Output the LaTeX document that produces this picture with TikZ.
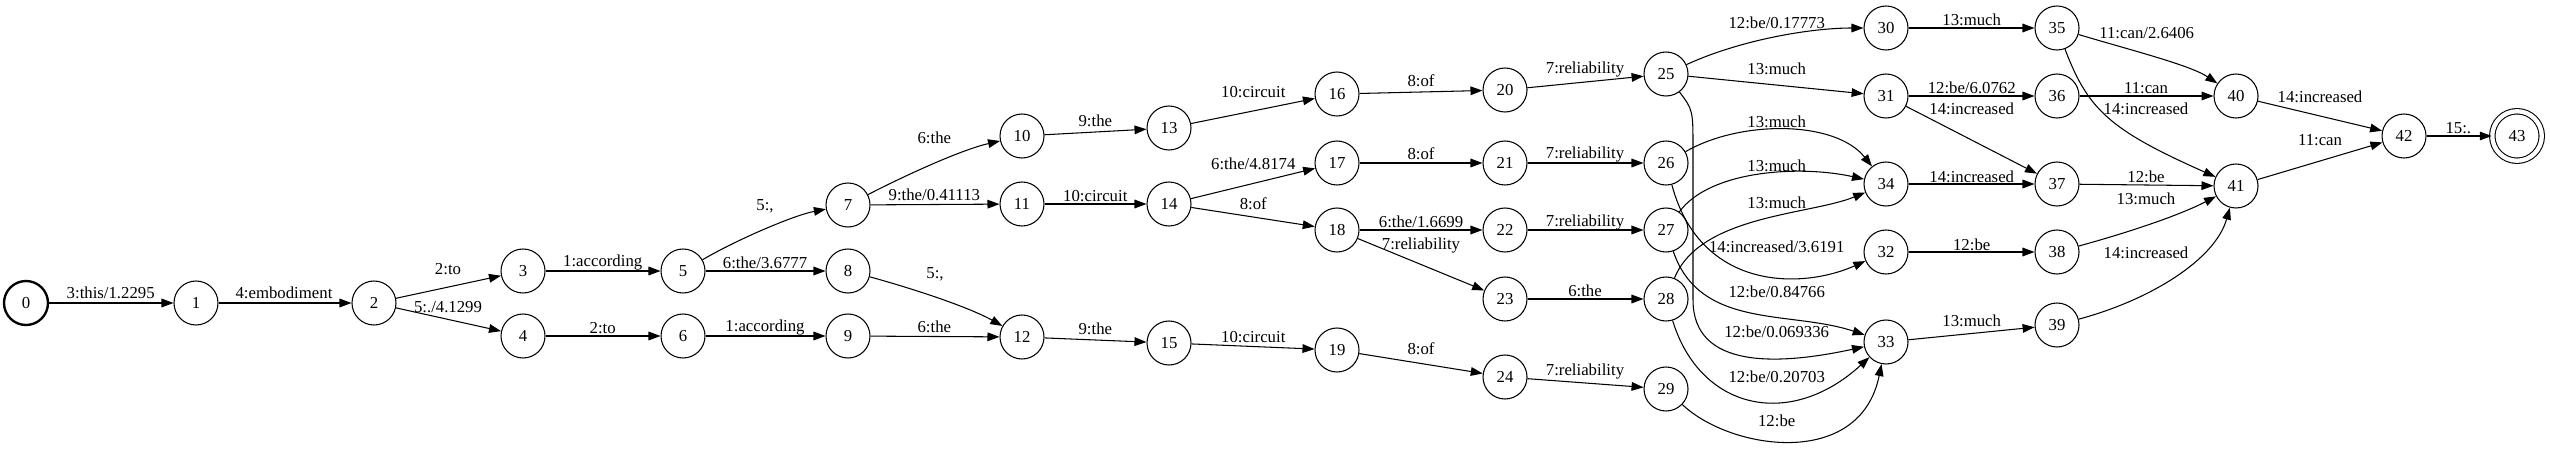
\documentclass[tikz,border=0pt]{standalone}
\usepackage{fontspec}
\setmainfont{Liberation Serif}
\usetikzlibrary{arrows.meta}
\begin{document}
\begin{tikzpicture}[x=0.03cm,y=-0.03cm,
  st/.style={circle,draw,line width=0.9pt,minimum size=1.32cm,inner sep=0pt,font=\fontsize{14.3pt}{17pt}\selectfont},
  lbl/.style={inner sep=0pt,font=\fontsize{14.3pt}{17pt}\selectfont},
  edge/.style={line width=0.9pt,-{Triangle[length=0.36cm,width=0.26cm]}}]
\useasboundingbox (0,0) rectangle (2550,455);
% states
\node[st,line width=2pt] (n0) at (26,303) {0};
\foreach \n/\x/\y in {1/196/303,2/374/303,3/523/271,4/523/336,5/683/271,6/683/336,
  7/848/205,8/848/271,9/848/336,10/1022/136,11/1022/204,12/1022/337,
  13/1169/128,14/1169/204,15/1169/343,16/1337/94,17/1337/163,18/1337/230,19/1337/350,
  20/1505/90,21/1505/163,22/1505/230,23/1505/299,24/1505/377,
  25/1666/74,26/1666/163,27/1666/230,28/1666/299,29/1666/389,
  30/1886/28,31/1886/96,34/1886/184,32/1886/252,33/1886/342,
  35/2057/28,36/2057/96,37/2057/184,38/2057/252,39/2057/325,
  40/2236/96,41/2236/186,42/2404/136}
  \node[st] (n\n) at (\x,\y) {\n};
\node[st,double,double distance=0.13cm,minimum size=1.485cm] (n43) at (2517,136) {43};
% edges
\draw[edge] (n0) -- (n1);
\draw[edge] (n1) -- (n2);
\draw[edge] (n2) -- (n3);
\draw[edge] (n2) -- (n4);
\draw[edge] (n3) -- (n5);
\draw[edge] (n4) -- (n6);
\draw[edge] (n5) .. controls (740,238) and (795,215) .. (n7);
\draw[edge] (n5) -- (n8);
\draw[edge] (n6) -- (n9);
\draw[edge] (n7) .. controls (900,178) and (960,150) .. (n10);
\draw[edge] (n7) -- (n11);
\draw[edge] (n8) .. controls (900,285) and (965,305) .. (n12);
\draw[edge] (n9) -- (n12);
\draw[edge] (n10) -- (n13);
\draw[edge] (n11) -- (n14);
\draw[edge] (n12) -- (n15);
\draw[edge] (n13) -- (n16);
\draw[edge] (n14) -- (n17);
\draw[edge] (n14) -- (n18);
\draw[edge] (n15) -- (n19);
\draw[edge] (n16) -- (n20);
\draw[edge] (n17) -- (n21);
\draw[edge] (n18) -- (n22);
\draw[edge] (n18) -- (n23);
\draw[edge] (n19) -- (n24);
\draw[edge] (n20) -- (n25);
\draw[edge] (n21) -- (n26);
\draw[edge] (n22) -- (n27);
\draw[edge] (n23) -- (n28);
\draw[edge] (n24) -- (n29);
\draw[edge] (n25) .. controls (1740,40) and (1810,28) .. (n30);
\draw[edge] (n25) -- (n31);
\draw[edge] (n25) .. controls (1693,110) .. (1693,150) -- (1693,300) .. controls (1693,370) and (1780,365) .. (n33);
\draw[edge] (n26) .. controls (1740,120) and (1835,120) .. (n34);
\draw[edge] (n26) .. controls (1700,290) and (1800,290) .. (n32);
\draw[edge] (n27) .. controls (1710,170) and (1800,165) .. (n34);
\draw[edge] (n27) .. controls (1700,330) and (1790,310) .. (n33);
\draw[edge] (n28) .. controls (1700,215) and (1810,215) .. (n34);
\draw[edge] (n28) .. controls (1700,410) and (1790,430) .. (n33);
\draw[edge] (n29) .. controls (1730,450) and (1860,470) .. (n33);
\draw[edge] (n30) -- (n35);
\draw[edge] (n31) -- (n36);
\draw[edge] (n31) -- (n37);
\draw[edge] (n34) -- (n37);
\draw[edge] (n32) -- (n38);
\draw[edge] (n33) -- (n39);
\draw[edge] (n35) .. controls (2130,50) and (2190,65) .. (n40);
\draw[edge] (n35) .. controls (2088,110) and (2110,130) .. (n41);
\draw[edge] (n36) -- (n40);
\draw[edge] (n37) -- (n41);
\draw[edge] (n38) .. controls (2130,232) and (2180,215) .. (n41);
\draw[edge] (n39) .. controls (2150,300) and (2215,260) .. (n41);
\draw[edge] (n40) -- (n42);
\draw[edge] (n41) -- (n42);
\draw[edge] (n42) -- (n43);
% labels
\node[lbl] (l0) at (110.7,293.3) {3:this/1.2295};
\node[lbl] (l1) at (284,293.3) {4:embodiment};
\node[lbl] (l2) at (448,269) {2:to};
\node[lbl] (l3) at (448,307.3) {5:./4.1299};
\node[lbl] (l4) at (602.7,262.7) {1:according};
\node[lbl] (l5) at (602.7,327.7) {2:to};
\node[lbl] (l6) at (765,206.7) {5:,};
\node[lbl] (l7) at (765,262.7) {6:the/3.6777};
\node[lbl] (l8) at (765,327.7) {1:according};
\node[lbl] (l9) at (934.3,137.7) {6:the};
\node[lbl] (l10) at (934.3,195) {9:the/0.41113};
\node[lbl] (l11) at (935,274) {5:,};
\node[lbl] (l12) at (934.3,327.3) {6:the};
\node[lbl] (l13) at (1095.3,120.7) {9:the};
\node[lbl] (l14) at (1095.3,195.7) {10:circuit};
\node[lbl] (l15) at (1095.3,329.3) {9:the};
\node[lbl] (l16) at (1253.3,92.3) {10:circuit};
\node[lbl] (l17) at (1253.3,164) {6:the/4.8174};
\node[lbl] (l18) at (1253.3,204) {8:of};
\node[lbl] (l19) at (1253.3,336.7) {10:circuit};
\node[lbl] (l20) at (1421,81) {8:of};
\node[lbl] (l21) at (1421,154) {8:of};
\node[lbl] (l22) at (1421,222) {6:the/1.6699};
\node[lbl] (l23) at (1421,245) {7:reliability};
\node[lbl] (l24) at (1421,348.3) {8:of};
\node[lbl] (l25) at (1585,69.3) {7:reliability};
\node[lbl] (l26) at (1585,154) {7:reliability};
\node[lbl] (l27) at (1585,222) {7:reliability};
\node[lbl] (l28) at (1585,290.7) {6:the};
\node[lbl] (l29) at (1585,371.7) {7:reliability};
\node[lbl] (l30) at (1776.7,23.3) {12:be/0.17773};
\node[lbl] (l31) at (1776.7,69.3) {13:much};
\node[lbl] (l32) at (1776.7,121.7) {13:much};
\node[lbl] (l33) at (1776.7,165.7) {13:much};
\node[lbl] (l34) at (1776.7,203.3) {13:much};
\node[lbl] (l35) at (1776.7,247.3) {14:increased/3.6191};
\node[lbl] (l36) at (1776.7,291.7) {12:be/0.84766};
\node[lbl] (l37) at (1776.7,332.3) {12:be/0.069336};
\node[lbl] (l38) at (1776.7,377.3) {12:be/0.20703};
\node[lbl] (l39) at (1776.7,421) {12:be};
\node[lbl] (l40) at (1971.7,20) {13:much};
\node[lbl] (l41) at (1971.7,87.7) {12:be/6.0762};
\node[lbl] (l42) at (1971.7,109.3) {14:increased};
\node[lbl] (l43) at (1971.7,176.7) {14:increased};
\node[lbl] (l44) at (1971.7,245) {12:be};
\node[lbl] (l45) at (1971.7,320.7) {13:much};
\node[lbl] (l46) at (2146.7,33.3) {11:can/2.6406};
\node[lbl] (l47) at (2146,88.3) {11:can};
\node[lbl] (l48) at (2146,109.3) {14:increased};
\node[lbl] (l49) at (2146,176.7) {12:be};
\node[lbl] (l50) at (2146,199) {13:much};
\node[lbl] (l51) at (2146,253.3) {14:increased};
\node[lbl] (l52) at (2320,96.7) {14:increased};
\node[lbl] (l53) at (2320,140) {11:can};
\node[lbl] (l54) at (2458.3,127.7) {15:.};
\end{tikzpicture}
\end{document}
